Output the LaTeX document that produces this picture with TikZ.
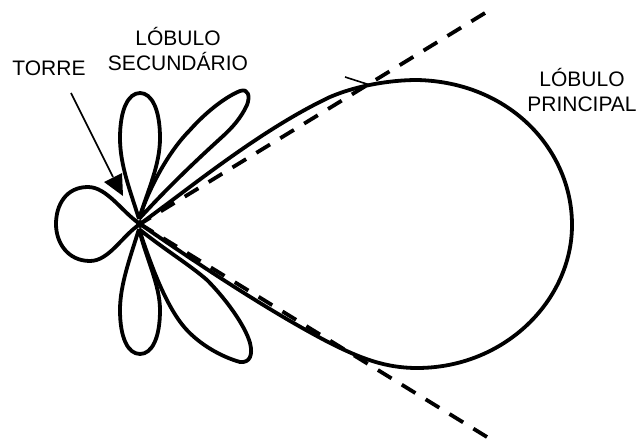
\documentclass[tikz,border=0pt]{standalone}
\usepackage{fontspec}
\setmainfont{Liberation Sans}
\begin{document}
\begin{tikzpicture}[x=1pt,y=-1pt,
  lobe/.style={line width=3.8pt,line join=round},
  tangent/.style={line width=3.8pt,dash pattern=on 16pt off 12pt},
  lbl/.style={font=\fontsize{21}{25}\selectfont,align=center,inner sep=0pt}]
\useasboundingbox (0,0) rectangle (637,441);
\coordinate (c) at (140,224);
\coordinate (cu) at (139,219);
\coordinate (cd) at (139,229);
\coordinate (ut) at (485,13);
\coordinate (lt) at (487,437);
% lobes
\draw[lobe] (c) .. controls (122,212) and (107,187) .. (88,187)
  .. controls (66,187) and (56,205) .. (56,224)
  .. controls (56,243) and (68,261) .. (90,261)
  .. controls (109,261) and (122,236) .. (c);
\draw[lobe] (cu) .. controls (130,190) and (120,165) .. (120,138)
  .. controls (120,110) and (128,93) .. (140,93)
  .. controls (152,93) and (160,110) .. (160,138)
  .. controls (160,165) and (148,190) .. (cu);
\draw[lobe] (cd) .. controls (130,258) and (120,285) .. (120,310)
  .. controls (120,338) and (128,354) .. (140,354)
  .. controls (152,354) and (160,338) .. (160,310)
  .. controls (160,285) and (146,258) .. (cd);
\draw[lobe] (cu) .. controls (150,185) and (170,150) .. (190,130)
  .. controls (205,113) and (225,97) .. (240,91)
  .. controls (249,88) and (250,97) .. (247,105)
  .. controls (241,118) and (232,128) .. (222,137)
  .. controls (200,157) and (170,185) .. (cu);
\draw[lobe] (cd) .. controls (150,262) and (165,305) .. (185,328)
  .. controls (200,345) and (222,357) .. (240,362)
  .. controls (250,363) and (253,355) .. (250,343)
  .. controls (245,325) and (225,298) .. (207,280)
  .. controls (190,265) and (165,250) .. (cd);
\draw[lobe] (c) .. controls (190,188) and (260,130) .. (330,97)
  .. controls (358,85) and (392,80) .. (417,80)
  .. controls (510,82) and (572,150) .. (572,225)
  .. controls (572,300) and (505,368) .. (417,368)
  .. controls (385,368) and (360,358) .. (330,343)
  .. controls (270,312) and (195,262) .. (c);
% tangents
\draw[tangent] (ut) -- (c);
\draw[tangent] (lt) -- (c);
\fill (c) circle (4pt);
% tick
\coordinate (ta) at (345,77);
\coordinate (tb) at (370,85);
\draw[line width=1.6pt] (ta) -- (tb);
% tower arrow
\coordinate (as) at (71,93);
\coordinate (at) at (123,196);
\draw[line width=1.6pt] (as) -- (113,177);
\fill (at) -- (104,182) -- (122,173) -- cycle;
% labels
\node[lbl] (torre) at (49,68) {TORRE};
\node[lbl] (sec) at (178,49) {LÓBULO\\SECUNDÁRIO};
\node[lbl] (pri) at (582,90) {LÓBULO\\PRINCIPAL};
\end{tikzpicture}
\end{document}
